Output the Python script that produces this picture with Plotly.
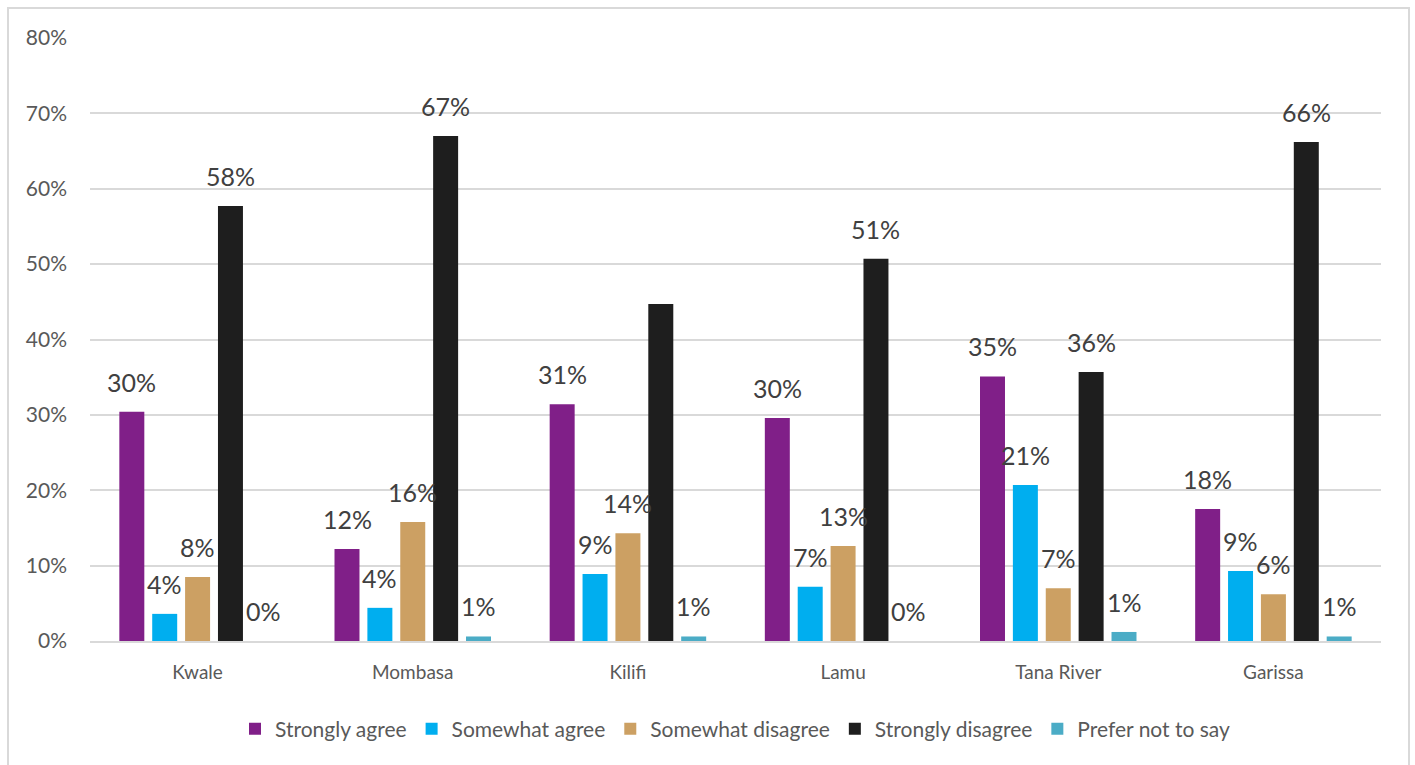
import plotly.graph_objects as go

counties = ["Kwale", "Mombasa", "Kilifi", "Lamu", "Tana River", "Garissa"]
series_names = ["Strongly agree", "Somewhat agree", "Somewhat disagree",
                "Strongly disagree", "Prefer not to say"]

strongly_agree = [0.304, 0.122, 0.314, 0.296, 0.351, 0.175]
somewhat_agree = [0.036, 0.044, 0.089, 0.072, 0.207, 0.093]
somewhat_disagree = [0.085, 0.158, 0.143, 0.126, 0.070, 0.062]
strongly_disagree = [0.577, 0.670, 0.447, 0.507, 0.357, 0.662]
prefer_not_to_say = [0.000, 0.006, 0.006, 0.000, 0.012, 0.006]

# Kilifi's "Strongly disagree" value carries no label on this chart
show_label = [
    [True] * 6,
    [True] * 6,
    [True] * 6,
    [True, True, False, True, True, True],
    [True] * 6,
]

colors = ["#801F88", "#00AEEF", "#CCA063", "#1E1E1E", "#4BACC6"]
all_values = [strongly_agree, somewhat_agree, somewhat_disagree,
              strongly_disagree, prefer_not_to_say]

# canvas / plot-area geometry (pixels)
W, H = 1415, 765
M_L, M_R, M_T, M_B = 90, 34, 38, 124
PW = W - M_L - M_R
PH = H - M_T - M_B

BARGAP = 0.236
GROUPGAP = 0.24
n_series = len(series_names)
slot = (1 - BARGAP) / n_series

FONT = "Lato, Open Sans, sans-serif"

fig = go.Figure()
for i, (name, vals, col) in enumerate(zip(series_names, all_values, colors)):
    fig.add_trace(go.Bar(
        name=name, x=list(range(len(counties))), y=vals,
        marker=dict(color=col, line=dict(width=0)),
    ))

# data labels above each bar
annotations = []
for i, vals in enumerate(all_values):
    offset = -(1 - BARGAP) / 2 + slot * (i + 0.5)
    for j, v in enumerate(vals):
        if not show_label[i][j]:
            continue
        annotations.append(dict(
            x=j + offset, y=v, xref="x", yref="y",
            text=f"{round(v * 100):.0f}%", showarrow=False,
            yanchor="bottom", xanchor="center", yshift=13,
            font=dict(family=FONT, size=25, color="#404040"),
        ))

# outer chart border
px2x = lambda px: (px - M_L) / PW
py2y = lambda py: (H - M_B - py) / PH
shapes = [dict(type="rect", xref="paper", yref="paper",
               x0=px2x(8), x1=px2x(1409), y0=py2y(790), y1=py2y(8),
               line=dict(color="#D9D9D9", width=2), fillcolor="rgba(0,0,0,0)",
               layer="below")]

fig.update_layout(
    width=W, height=H,
    margin=dict(l=M_L, r=M_R, t=M_T, b=M_B),
    paper_bgcolor="white", plot_bgcolor="white",
    barmode="group", bargap=BARGAP, bargroupgap=GROUPGAP,
    font=dict(family=FONT, color="#595959"),
    showlegend=True,
    legend=dict(orientation="h", x=0.5, xanchor="center", y=py2y(729), yanchor="middle",
                font=dict(size=21, color="#595959"), itemwidth=30,
                traceorder="normal", itemclick=False),
    annotations=annotations,
    shapes=shapes,
    xaxis=dict(
        tickmode="array", tickvals=list(range(len(counties))), ticktext=counties,
        range=[-0.5, len(counties) - 0.5],
        showgrid=False, showline=True, linecolor="#D9D9D9", linewidth=2,
        ticks="", tickfont=dict(size=19, color="#595959"),
        ticklabelstandoff=13,
    ),
    yaxis=dict(
        range=[0, 0.8], dtick=0.1, tickformat=".0%",
        showgrid=True, gridcolor="#D9D9D9", gridwidth=2,
        zeroline=False, showline=False, ticks="",
        tickfont=dict(size=21, color="#595959"),
        ticklabelstandoff=22,
    ),
)

fig.write_html("out.html")
